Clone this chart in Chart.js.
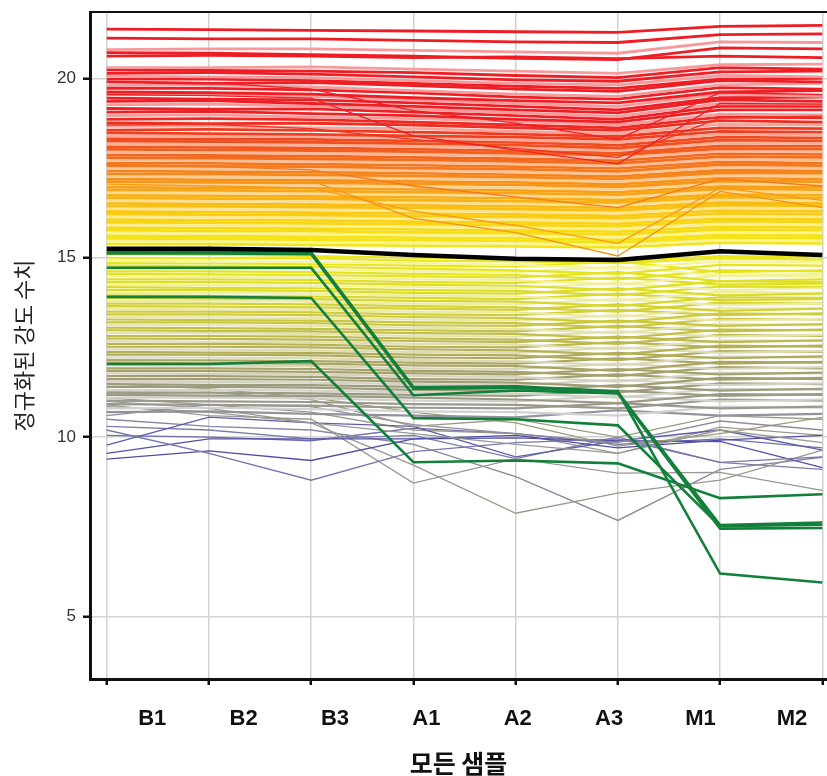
<!DOCTYPE html>
<html>
<head>
<meta charset="utf-8">
<script src="https://cdn.jsdelivr.net/npm/chart.js@4.4.1/dist/chart.umd.min.js"></script>
<style>
    html, body { margin: 0; padding: 0; background: #fff; }
    canvas { display: block; }
</style>
</head>
<body>
<canvas id="profileChart" width="827" height="776"></canvas>
<script>
const samples = ['B1', 'B2', 'B3', 'A1', 'A2', 'A3', 'M1', 'M2'];
const yTicks = [5, 10, 15, 20];

// mean profile (thick black line)
const meanProfile = [15.25, 15.25, 15.22, 15.08, 14.97, 14.94, 15.18, 15.08];

// highlighted cluster (green)
const greenProfiles = [
    [15.17, 15.17, 15.15, 11.40, 11.42, 11.28, 6.20, 5.95],
    [15.12, 15.12, 15.10, 11.35, 11.38, 11.25, 7.55, 7.62],
    [14.72, 14.72, 14.72, 11.17, 11.30, 11.22, 7.45, 7.47],
    [13.91, 13.91, 13.88, 10.53, 10.50, 10.33, 7.52, 7.56],
    [12.04, 12.04, 12.12, 9.30, 9.35, 9.27, 8.30, 8.41]
];

// thin lines that dip at A3
const crossingProfiles = [
    [19.55, 19.52, 19.45, 18.40, 18.00, 17.62, 19.30, 19.28],
    [19.90, 19.88, 19.70, 19.10, 18.75, 18.30, 19.60, 19.55],
    [18.70, 18.72, 18.60, 18.30, 18.05, 17.80, 18.90, 18.95],
    [17.20, 17.18, 17.15, 16.10, 15.70, 15.05, 16.85, 16.40],
    [17.05, 17.00, 16.95, 16.30, 15.90, 15.40, 16.95, 16.60],
    [17.60, 17.55, 17.45, 17.00, 16.70, 16.40, 17.20, 17.00]
];

const highProfiles = [
    [21.37, 21.36, 21.34, 21.32, 21.30, 21.28, 21.45, 21.48],
    [21.12, 21.10, 21.10, 21.06, 21.02, 21.00, 21.22, 21.24],
    [20.80, 20.82, 20.82, 20.78, 20.74, 20.70, 21.02, 21.00],
    [20.72, 20.70, 20.66, 20.62, 20.56, 20.52, 20.85, 20.82],
    [20.62, 20.64, 20.62, 20.58, 20.60, 20.55, 20.62, 20.58],
    [20.30, 20.30, 20.32, 20.26, 20.20, 20.14, 20.38, 20.40],
    [20.24, 20.22, 20.20, 20.16, 20.08, 20.02, 20.30, 20.26],
    [20.14, 20.16, 20.12, 20.04, 19.96, 19.92, 20.18, 20.20],
    [20.06, 20.04, 20.02, 19.94, 19.86, 19.82, 20.08, 20.04],
    [19.98, 19.98, 19.94, 19.86, 19.78, 19.72, 19.98, 20.00],
    [19.90, 19.86, 19.88, 19.80, 19.70, 19.64, 19.94, 19.90],
    [19.80, 19.82, 19.76, 19.66, 19.56, 19.50, 19.82, 19.86],
    [19.72, 19.72, 19.68, 19.60, 19.48, 19.42, 19.74, 19.70],
    [19.62, 19.60, 19.56, 19.46, 19.38, 19.32, 19.62, 19.66],
    [19.54, 19.55, 19.50, 19.40, 19.30, 19.22, 19.56, 19.50],
    [19.45, 19.42, 19.40, 19.32, 19.22, 19.12, 19.46, 19.48],
    [19.36, 19.38, 19.30, 19.22, 19.12, 19.04, 19.40, 19.36],
    [19.26, 19.28, 19.22, 19.14, 19.04, 18.94, 19.30, 19.28],
    [19.16, 19.14, 19.15, 19.06, 18.96, 18.86, 19.22, 19.22],
    [19.06, 19.08, 19.02, 18.96, 18.86, 18.78, 19.12, 19.12],
    [18.96, 18.98, 18.92, 18.88, 18.80, 18.70, 19.00, 18.98],
    [18.86, 18.88, 18.85, 18.78, 18.70, 18.62, 18.92, 18.90],
    [18.76, 18.74, 18.75, 18.70, 18.62, 18.55, 18.82, 18.78],
    [18.66, 18.68, 18.62, 18.60, 18.52, 18.46, 18.72, 18.70],
    [18.56, 18.58, 18.55, 18.50, 18.45, 18.38, 18.62, 18.60],
    [18.48, 18.46, 18.44, 18.40, 18.36, 18.30, 18.52, 18.50],
    [18.40, 18.38, 18.38, 18.34, 18.28, 18.22, 18.44, 18.42],
    [18.32, 18.30, 18.30, 18.26, 18.22, 18.14, 18.36, 18.34],
    [18.25, 18.24, 18.22, 18.18, 18.14, 18.06, 18.28, 18.26],
    [18.17, 18.15, 18.15, 18.10, 18.06, 17.99, 18.20, 18.18],
    [18.10, 18.08, 18.06, 18.03, 17.98, 17.92, 18.12, 18.11],
    [18.02, 18.01, 17.99, 17.96, 17.91, 17.86, 18.04, 18.03],
    [17.94, 17.93, 17.91, 17.88, 17.84, 17.78, 17.97, 17.95],
    [17.87, 17.85, 17.84, 17.80, 17.76, 17.71, 17.90, 17.88],
    [17.79, 17.78, 17.76, 17.73, 17.69, 17.63, 17.82, 17.80],
    [17.72, 17.71, 17.69, 17.65, 17.61, 17.56, 17.74, 17.72],
    [17.64, 17.63, 17.61, 17.58, 17.54, 17.49, 17.67, 17.64],
    [17.57, 17.55, 17.54, 17.50, 17.47, 17.41, 17.60, 17.57],
    [17.49, 17.48, 17.46, 17.43, 17.39, 17.34, 17.52, 17.50],
    [17.42, 17.40, 17.39, 17.36, 17.32, 17.27, 17.44, 17.42],
    [17.34, 17.33, 17.31, 17.28, 17.25, 17.20, 17.37, 17.35],
    [17.27, 17.25, 17.24, 17.21, 17.18, 17.12, 17.29, 17.27],
    [17.19, 17.18, 17.16, 17.13, 17.10, 17.05, 17.22, 17.20],
    [17.12, 17.10, 17.09, 17.06, 17.03, 16.98, 17.14, 17.12],
    [17.04, 17.03, 17.01, 16.98, 16.95, 16.91, 17.07, 17.05],
    [16.97, 16.95, 16.94, 16.91, 16.88, 16.83, 16.99, 16.97],
    [16.89, 16.88, 16.86, 16.83, 16.80, 16.76, 16.92, 16.90],
    [16.82, 16.80, 16.79, 16.76, 16.73, 16.69, 16.84, 16.82],
    [16.74, 16.73, 16.71, 16.69, 16.66, 16.61, 16.77, 16.75],
    [16.67, 16.65, 16.64, 16.61, 16.58, 16.54, 16.69, 16.67],
    [16.59, 16.58, 16.56, 16.54, 16.51, 16.47, 16.62, 16.60],
    [16.52, 16.50, 16.49, 16.46, 16.44, 16.39, 16.54, 16.52],
    [16.44, 16.43, 16.41, 16.39, 16.36, 16.32, 16.47, 16.45],
    [16.37, 16.35, 16.34, 16.31, 16.29, 16.25, 16.39, 16.37],
    [16.29, 16.28, 16.26, 16.24, 16.21, 16.17, 16.32, 16.30],
    [16.22, 16.20, 16.19, 16.16, 16.14, 16.10, 16.24, 16.22],
    [16.14, 16.13, 16.11, 16.09, 16.06, 16.02, 16.17, 16.15],
    [16.07, 16.05, 16.04, 16.01, 15.99, 15.95, 16.09, 16.07],
    [15.99, 15.98, 15.96, 15.94, 15.91, 15.88, 16.02, 16.00],
    [15.92, 15.90, 15.89, 15.86, 15.84, 15.80, 15.94, 15.92],
    [15.84, 15.83, 15.81, 15.79, 15.76, 15.73, 15.87, 15.85],
    [15.77, 15.75, 15.74, 15.71, 15.69, 15.65, 15.79, 15.77],
    [15.69, 15.68, 15.66, 15.64, 15.62, 15.58, 15.72, 15.70],
    [15.62, 15.60, 15.59, 15.56, 15.54, 15.50, 15.64, 15.62],
    [15.54, 15.53, 15.51, 15.49, 15.47, 15.43, 15.57, 15.55],
    [15.46, 15.45, 15.44, 15.41, 15.39, 15.36, 15.49, 15.47],
    [15.39, 15.38, 15.36, 15.34, 15.32, 15.29, 15.42, 15.40]
];

const midProfiles = [
    [15.10, 15.08, 15.05, 15.00, 14.98, 14.90, 15.05, 15.02],
    [15.00, 14.98, 14.98, 14.92, 14.90, 14.85, 14.98, 14.95],
    [14.92, 14.90, 14.88, 14.85, 14.80, 14.70, 14.90, 14.88],
    [14.85, 14.84, 14.82, 14.78, 14.75, 14.90, 14.60, 14.65],
    [14.78, 14.76, 14.75, 14.70, 14.65, 14.55, 14.80, 14.78],
    [14.70, 14.70, 14.68, 14.62, 14.60, 14.75, 14.50, 14.55],
    [14.62, 14.62, 14.60, 14.55, 14.52, 14.40, 14.65, 14.62],
    [14.55, 14.54, 14.52, 14.48, 14.45, 14.60, 14.35, 14.40],
    [14.48, 14.46, 14.45, 14.40, 14.38, 14.25, 14.50, 14.48],
    [14.40, 14.40, 14.38, 14.32, 14.30, 14.45, 14.25, 14.28],
    [14.32, 14.32, 14.30, 14.25, 14.22, 14.10, 14.35, 14.32],
    [14.25, 14.24, 14.22, 14.18, 14.15, 14.30, 14.10, 14.15],
    [14.18, 14.16, 14.15, 14.10, 14.08, 13.95, 14.20, 14.18],
    [14.10, 14.10, 14.08, 14.02, 14.00, 14.15, 13.95, 14.00],
    [14.02, 14.02, 14.00, 13.95, 13.92, 13.80, 14.05, 14.02],
    [13.95, 13.94, 13.92, 13.88, 13.85, 14.00, 13.82, 13.85],
    [13.88, 13.86, 13.85, 13.80, 13.78, 13.65, 13.90, 13.88],
    [13.80, 13.80, 13.78, 13.72, 13.70, 13.85, 13.68, 13.72],
    [13.72, 13.72, 13.70, 13.65, 13.62, 13.50, 13.75, 13.72],
    [13.65, 13.64, 13.62, 13.58, 13.55, 13.70, 13.52, 13.58],
    [13.58, 13.56, 13.55, 13.50, 13.48, 13.35, 13.60, 13.58],
    [13.50, 13.50, 13.48, 13.42, 13.40, 13.55, 13.40, 13.45],
    [13.42, 13.42, 13.40, 13.35, 13.32, 13.20, 13.45, 13.42],
    [13.35, 13.34, 13.32, 13.28, 13.25, 13.40, 13.25, 13.30],
    [13.28, 13.26, 13.25, 13.20, 13.18, 13.05, 13.30, 13.28],
    [13.20, 13.20, 13.18, 13.12, 13.10, 13.25, 13.10, 13.15],
    [13.12, 13.12, 13.10, 13.05, 13.02, 12.90, 13.15, 13.12],
    [13.05, 13.04, 13.02, 12.98, 12.95, 13.10, 12.95, 13.00],
    [12.98, 12.96, 12.95, 12.90, 12.88, 12.75, 13.00, 12.98],
    [12.90, 12.90, 12.88, 12.82, 12.80, 12.95, 12.80, 12.85],
    [12.82, 12.82, 12.80, 12.75, 12.72, 12.60, 12.85, 12.82],
    [12.75, 12.74, 12.72, 12.68, 12.65, 12.80, 12.65, 12.70],
    [12.68, 12.66, 12.65, 12.60, 12.58, 12.45, 12.70, 12.68],
    [12.60, 12.60, 12.58, 12.52, 12.50, 12.65, 12.50, 12.55],
    [12.52, 12.52, 12.50, 12.45, 12.42, 12.30, 12.55, 12.52],
    [12.45, 12.44, 12.42, 12.38, 12.35, 12.50, 12.35, 12.40],
    [12.38, 12.36, 12.35, 12.30, 12.28, 12.15, 12.40, 12.38],
    [12.30, 12.30, 12.28, 12.22, 12.20, 12.35, 12.20, 12.25],
    [12.22, 12.22, 12.20, 12.15, 12.12, 12.00, 12.25, 12.22],
    [12.15, 12.14, 12.12, 12.08, 12.05, 12.20, 12.05, 12.10],
    [12.08, 12.06, 12.05, 12.00, 11.98, 11.85, 12.10, 12.08],
    [12.00, 12.00, 11.98, 11.92, 11.90, 12.05, 11.90, 11.95],
    [11.92, 11.92, 11.90, 11.85, 11.82, 11.70, 11.95, 11.92],
    [11.85, 11.84, 11.82, 11.78, 11.75, 11.90, 11.75, 11.80],
    [11.78, 11.76, 11.75, 11.70, 11.68, 11.55, 11.80, 11.78],
    [11.70, 11.70, 11.68, 11.62, 11.60, 11.75, 11.60, 11.65],
    [11.62, 11.62, 11.60, 11.55, 11.52, 11.40, 11.65, 11.62],
    [11.55, 11.54, 11.52, 11.48, 11.45, 11.60, 11.45, 11.50],
    [11.48, 11.46, 11.45, 11.40, 11.38, 11.25, 11.50, 11.48],
    [11.40, 11.40, 11.38, 11.32, 11.30, 11.45, 11.30, 11.35],
    [11.32, 11.32, 11.30, 11.25, 11.22, 11.10, 11.35, 11.32],
    [11.25, 11.24, 11.22, 11.18, 11.15, 11.30, 11.15, 11.20],
    [11.18, 11.16, 11.15, 11.10, 11.05, 10.95, 11.20, 11.18],
    [11.10, 11.10, 11.08, 11.02, 11.00, 11.15, 11.00, 11.05],
    [11.02, 11.00, 10.98, 10.92, 10.90, 10.80, 11.05, 11.02],
    [10.92, 10.90, 10.88, 10.82, 10.80, 10.95, 10.80, 10.85],
    [10.80, 10.82, 10.78, 10.72, 10.70, 10.60, 10.85, 10.82],
    [10.70, 10.72, 10.65, 10.60, 10.55, 10.75, 10.60, 10.65]
];

const lowProfiles = [
    [11.20, 11.25, 11.05, 10.30, 10.50, 10.00, 10.60, 10.50],
    [10.60, 10.90, 10.85, 10.35, 10.10, 9.85, 10.45, 10.20],
    [11.50, 11.35, 11.10, 10.70, 10.40, 9.75, 10.10, 10.55],
    [10.85, 10.70, 10.40, 10.10, 9.80, 9.55, 10.20, 9.85],
    [10.20, 9.55, 8.80, 9.60, 9.85, 9.95, 9.30, 9.45],
    [9.78, 10.56, 10.40, 10.30, 9.45, 9.90, 10.20, 9.64],
    [9.39, 9.62, 9.35, 9.95, 10.05, 9.70, 9.92, 10.05],
    [9.55, 9.95, 9.95, 9.95, 9.98, 9.90, 9.88, 9.15],
    [10.90, 10.60, 10.50, 8.72, 9.40, 9.00, 9.02, 8.52],
    [11.00, 10.80, 10.40, 9.22, 7.88, 8.44, 8.80, 9.64],
    [10.50, 10.30, 10.20, 9.80, 8.90, 7.68, 9.10, 9.44],
    [10.30, 10.20, 9.95, 10.05, 9.40, 10.00, 9.30, 9.10],
    [11.10, 10.90, 10.70, 10.20, 10.10, 9.55, 10.28, 10.05],
    [10.05, 10.00, 9.90, 10.25, 10.10, 9.80, 9.95, 9.70]
];

// colour ramp by intensity level
const ramp = [
    [21.5, 238, 28, 36], [19.0, 238, 32, 36], [18.5, 240, 62, 32], [18.0, 242, 96, 30],
    [17.4, 245, 132, 28], [16.8, 248, 172, 20], [16.2, 250, 206, 16], [15.6, 245, 228, 20],
    [15.0, 234, 232, 26], [14.3, 222, 222, 36], [13.6, 210, 208, 54], [12.9, 192, 188, 72],
    [12.2, 172, 167, 94], [11.5, 158, 155, 122], [10.8, 152, 152, 150], [10.2, 118, 118, 172],
    [9.5, 78, 78, 165]
];

function levelColor(v, pale) {
    let c = ramp[ramp.length - 1].slice(1);
    for (let i = 0; i < ramp.length - 1; i++) {
        const a = ramp[i], b = ramp[i + 1];
        if (v <= a[0] && v >= b[0]) {
            const t = (a[0] - v) / (a[0] - b[0]);
            c = [1, 2, 3].map(k => a[k] + (b[k] - a[k]) * t);
            break;
        }
        if (v > ramp[0][0]) { c = ramp[0].slice(1); break; }
    }
    if (pale) c = c.map(x => x + (255 - x) * 0.55);
    return 'rgb(' + c.map(Math.round).join(',') + ')';
}

function toPoints(values) {
    return values.map((y, i) => ({ x: i, y: y }));
}

function profileSet(values, color, width, order) {
    return {
        data: toPoints(values),
        borderColor: color,
        borderWidth: width,
        order: order,
        xAxisID: 'x',
        yAxisID: 'y'
    };
}

// no label overflow padding, so the plot area is set by the axis sizes only
function fixSize(prop, size) {
    return function (s) {
        s[prop] = size;
        s.paddingTop = 0; s.paddingBottom = 0; s.paddingLeft = 0; s.paddingRight = 0;
    };
}

var datasets = [];
datasets.push(profileSet(meanProfile, '#000000', 4.5, 0));
greenProfiles.forEach(function (p) {
    datasets.push(profileSet(p, 'rgb(18,128,58)', 2.6, 1));
});
crossingProfiles.forEach(function (p) {
    datasets.push(profileSet(p, levelColor(p[0], false), 1.3, 2));
});
highProfiles.forEach(function (p, i) {
    datasets.push(profileSet(p, levelColor(p[0], i % 3 === 2), 2.8, 3));
});
midProfiles.forEach(function (p, i) {
    datasets.push(profileSet(p, levelColor(p[0], i % 3 === 2), 2.2, 3));
});
lowProfiles.forEach(function (p) {
    datasets.push(profileSet(p, levelColor(p[0], false), 1.3, 3));
});

const xMin = -0.164, xMax = 7.046;

new Chart(document.getElementById('profileChart'), {
    type: 'line',
    data: { datasets: datasets },
    options: {
        responsive: false,
        animation: false,
        events: [],
        layout: { padding: 0 },
        elements: { point: { radius: 0 }, line: { tension: 0 } },
        plugins: { legend: { display: false }, tooltip: { enabled: false } },
        scales: {
            x: {
                type: 'linear', position: 'bottom', weight: 0, min: xMin, max: xMax,
                afterBuildTicks: function (s) { s.ticks = samples.map((_, i) => ({ value: i })); },
                ticks: { display: false },
                grid: { color: '#d2d2d2', lineWidth: 1.5, tickColor: '#111', tickLength: 6, tickWidth: 2.5 },
                border: { color: '#111', width: 3 },
                afterFit: fixSize('height', 8)
            },
            xl: {
                type: 'linear', position: 'bottom', weight: 1, min: xMin, max: xMax,
                afterBuildTicks: function (s) { s.ticks = samples.map((_, i) => ({ value: 0.445 + i * 0.894 })); },
                ticks: {
                    autoSkip: false, maxRotation: 0, padding: 19, color: '#111',
                    font: { family: '"Liberation Sans", sans-serif', size: 22, weight: 'bold' },
                    callback: function (value, index) { return samples[index]; }
                },
                grid: { display: false, drawTicks: false },
                border: { display: false },
                title: {
                    display: true, text: '모든 샘플', color: '#111',
                    font: { family: '"Noto Sans CJK KR"', size: 25, weight: 'bold', lineHeight: 1 },
                    padding: { top: 0, bottom: 0 }
                },
                afterFit: fixSize('height', 89)
            },
            xt: {
                type: 'linear', position: 'top', min: xMin, max: xMax,
                ticks: { display: false },
                grid: { display: false, drawTicks: false },
                border: { color: '#111', width: 2 },
                afterFit: fixSize('height', 12)
            },
            y: {
                type: 'linear', min: 3.26, max: 21.85,
                afterBuildTicks: function (s) { s.ticks = yTicks.map(v => ({ value: v })); },
                ticks: { color: '#333', padding: 7, font: { family: '"Liberation Sans", sans-serif', size: 17 } },
                grid: { color: '#d2d2d2', lineWidth: 1.5, tickColor: '#111', tickLength: 7, tickWidth: 2.5 },
                border: { color: '#111', width: 3 },
                title: {
                    display: true, text: '정규화된 강도 수치', color: '#222',
                    font: { family: '"Noto Sans CJK KR"', size: 22 },
                    padding: { top: 10, bottom: 0 }
                },
                afterFit: fixSize('width', 90)
            }
        }
    }
});
</script>
</body>
</html>
